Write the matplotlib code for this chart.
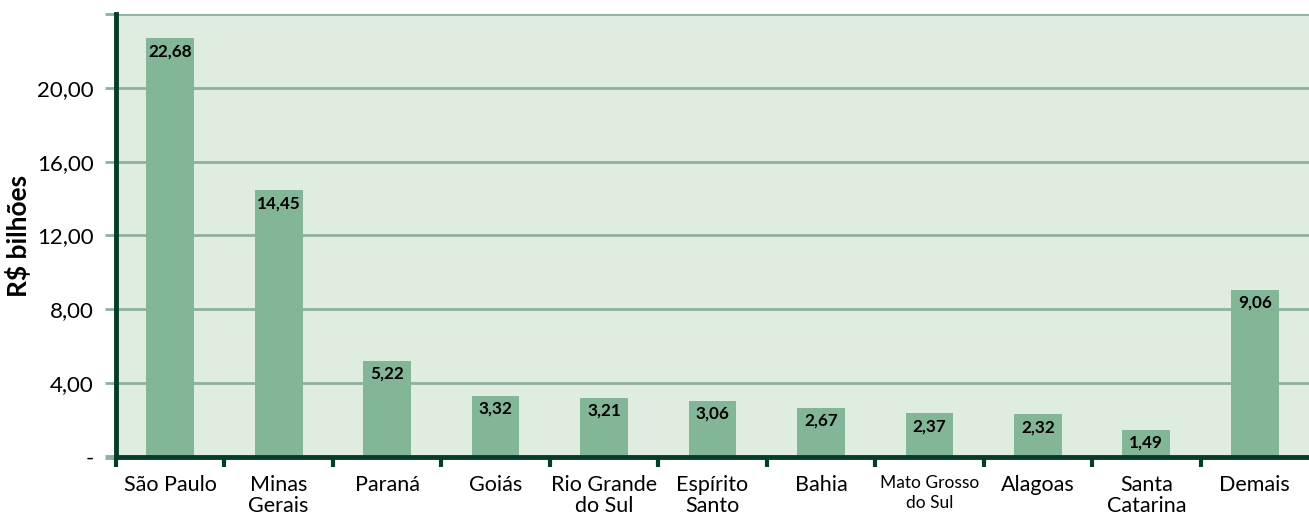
import matplotlib
matplotlib.use("Agg")
import matplotlib.pyplot as plt

categories = ["São Paulo", "Minas\nGerais", "Paraná", "Goiás", "Rio Grande\ndo Sul",
              "Espírito\nSanto", "Bahia", "Mato Grosso\ndo Sul", "Alagoas", "Santa\nCatarina", "Demais"]
values = [22.68, 14.45, 5.22, 3.32, 3.21, 3.06, 2.67, 2.37, 2.32, 1.49, 9.06]
value_labels = ["22,68", "14,45", "5,22", "3,32", "3,21", "3,06", "2,67", "2,37", "2,32", "1,49", "9,06"]
yticks = [0, 4, 8, 12, 16, 20, 24]
ytick_labels = ["-", "4,00", "8,00", "12,00", "16,00", "20,00", ""]

plt.rcParams['font.family'] = ['Lato', 'DejaVu Sans']

DARK = "#053d27"
GRID = "#8fb09c"
BG = "#dfece0"
BAR = "#83b597"

fig = plt.figure(figsize=(13.09, 5.17), dpi=100)
ax = fig.add_axes([0.0886, 0.116, 0.9114, 0.857])
ax.set_facecolor(BG)

x = list(range(len(categories)))
ax.set_xlim(-0.5, len(categories) - 0.5)
ax.set_ylim(0, 24)
ax.set_yticks(yticks)
ax.set_yticklabels(ytick_labels, fontsize=16)
ax.grid(axis='y', color=GRID, linewidth=2, zorder=1)
ax.set_axisbelow(True)

bars = ax.bar(x, values, width=0.44, color=BAR, zorder=2)
for xi, v, lab in zip(x, values, value_labels):
    ax.annotate(lab, (xi, v), xytext=(0, -3.5), textcoords='offset points',
                ha='center', va='top', fontsize=12.3, fontweight='bold', color='black', zorder=3)

# category ticks at boundaries
ax.set_xticks([i - 0.5 for i in range(len(categories))])
ax.set_xticklabels([])
for xi, c in zip(x, categories):
    if c.startswith("Mato"):
        ax.text(xi, -1.0, c, ha='center', va='top', fontsize=12.5, linespacing=1.3)
    else:
        ax.text(xi, -1.0, c, ha='center', va='top', fontsize=15.5, linespacing=1.05)
ax.tick_params(axis='x', which='major', length=7, width=3, color=DARK, direction='out')
ax.tick_params(axis='y', length=8, width=2, color=GRID, pad=8)
ax.yaxis.get_major_ticks()[0].tick1line.set_color(DARK)
ax.yaxis.get_major_ticks()[0].tick1line.set_markeredgewidth(3.5)

for s in ['top', 'right']:
    ax.spines[s].set_visible(False)
for s in ['left', 'bottom']:
    ax.spines[s].set_color(DARK)
    ax.spines[s].set_linewidth(3.5)

ax.set_ylabel("R$ bilhões", fontsize=19, fontweight='bold', labelpad=4)

fig.savefig("out.png", dpi=100, facecolor='white')
